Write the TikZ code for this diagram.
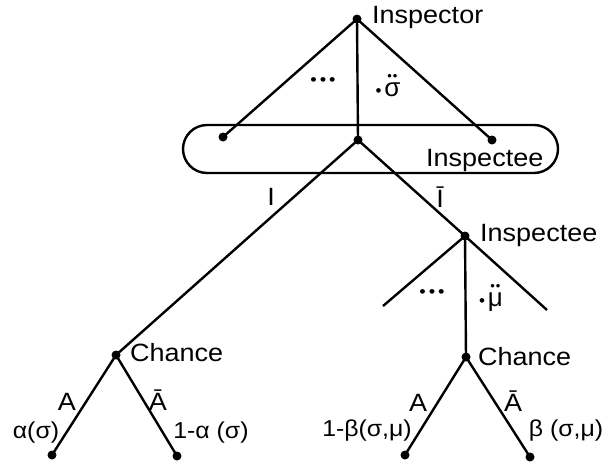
\documentclass[tikz,border=0pt]{standalone}
\usepackage{fontspec}
\setmainfont{Liberation Sans}[FakeStretch=1.08]
\newfontfamily\plainsans{Liberation Sans}
\usetikzlibrary{shapes.misc}
\newcommand{\smdot}{{\fontsize{17}{19}\selectfont•}}
\newcommand{\tinydot}{{\fontsize{13}{13}\selectfont•}}
\newcommand{\twodots}[1]{\ooalign{#1\cr\hidewidth\raisebox{0.62em}{\tinydot\kern1pt\tinydot}\hidewidth\cr}}
\begin{document}
\begin{tikzpicture}[x=1pt,y=-1pt,line width=2.4pt,
  dotnode/.style={circle,fill=black,inner sep=0pt,minimum size=9pt},
  lbl/.style={font=\fontsize{25}{27}\selectfont,inner sep=1pt},
  lbm/.style={font=\plainsans\fontsize{26}{28}\selectfont,inner sep=1pt},
  lbs/.style={font=\fontsize{23}{25}\selectfont,inner sep=1pt}]
\useasboundingbox (0,0) rectangle (604,466);
% nodes
\node[dotnode] (root) at (357,19) {};
\node[dotnode] (l1) at (223,137) {};
\node[dotnode] (m1) at (358,140) {};
\node[dotnode] (r1) at (492,140) {};
\node[dotnode] (insp2) at (465,236) {};
\node[dotnode] (chL) at (116,355) {};
\node[dotnode] (chR) at (466,357) {};
\node[dotnode] (lfA) at (52,455) {};
\node[dotnode] (lfB) at (177,456) {};
\node[dotnode] (rfA) at (405,455) {};
\node[dotnode] (rfB) at (530,457) {};
\coordinate (e1) at (383,306);
\coordinate (e2) at (547,310);
% info set
\node[draw,rounded rectangle,minimum width=375pt,minimum height=48pt,inner sep=0pt] (info) at (370.5,149) {};
% edges
\draw (root.center) -- (l1.center);
\draw (root.center) -- (m1.center);
\draw (root.center) -- (r1.center);
\draw (m1.center) -- (chL.center);
\draw (m1.center) -- (insp2.center);
\draw (insp2.center) -- (e1);
\draw (insp2.center) -- (e2);
\draw (insp2.center) -- (chR.center);
\draw (chL.center) -- (lfA.center);
\draw (chL.center) -- (lfB.center);
\draw (chR.center) -- (rfA.center);
\draw (chR.center) -- (rfB.center);
% labels
\node[lbl,anchor=west] (tInsp) at (370,17) {Inspector};
\node[lbl,anchor=west] (tInsp2) at (424,160) {Inspectee};
\node[lbl,anchor=west] (tInsp3) at (478,235) {Inspectee};
\node[lbl,anchor=west] (tChL) at (128,353) {Chance};
\node[lbl,anchor=west] (tChR) at (476,357) {Chance};
\node[lbl] (dots1) at (323,82) {\smdot\kern3pt\smdot\kern3pt\smdot};
\node[lbm] (sig1) at (388,90) {\smdot\kern3pt\twodots{σ}};
\node[lbl] (dots2) at (432,294) {\smdot\kern3pt\smdot\kern3pt\smdot};
\node[lbm] (mu1) at (491,300) {\smdot\kern3pt\twodots{μ}};
\node[lbl] (tI) at (271,197) {I};
\node[lbl] (tIb) at (440,197) {Ī};
\node[lbl] (aL) at (67,402) {A};
\node[lbl] (abL) at (158,400) {Ā};
\node[lbl] (aR) at (418,403) {A};
\node[lbl] (abR) at (513,401) {Ā};
\node[lbs] (p1) at (36,433) {α(σ)};
\node[lbs] (p2) at (211,433) {1-α (σ)};
\node[lbs] (p3) at (367,431) {1-β(σ,μ)};
\node[lbs] (p4) at (566,431) {β (σ,μ)};
\end{tikzpicture}
\end{document}
